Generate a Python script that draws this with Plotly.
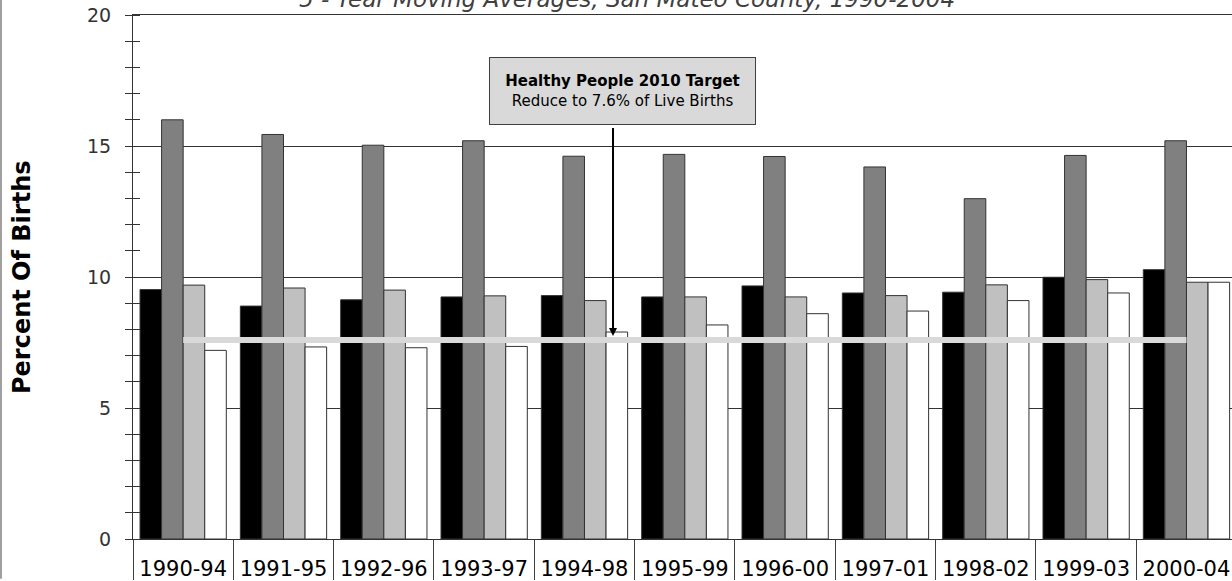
import plotly.graph_objects as go

categories = ["1990-94", "1991-95", "1992-96", "1993-97", "1994-98", "1995-99",
              "1996-00", "1997-01", "1998-02", "1999-03", "2000-04"]
series_1 = [9.52, 8.89, 9.13, 9.24, 9.29, 9.24, 9.66, 9.39, 9.42, 9.99, 10.28]
series_2 = [16.0, 15.44, 15.03, 15.2, 14.61, 14.68, 14.6, 14.2, 12.99, 14.64, 15.2]
series_3 = [9.69, 9.58, 9.5, 9.28, 9.1, 9.24, 9.24, 9.29, 9.7, 9.9, 9.8]
series_4 = [7.2, 7.33, 7.3, 7.35, 7.9, 8.17, 8.6, 8.7, 9.1, 9.39, 9.8]
target_value = 7.6
y_ticks = [0, 5, 10, 15, 20]

FONT = "DejaVu Sans"
W, H = 1232, 581
ML, MR, MT, MB = 133, 0, 15, 40
PW, PH = W - ML - MR, H - MT - MB

fig = go.Figure()
colors = ["#000000", "#808080", "#c0c0c0", "#ffffff"]
for name, vals, c in zip(["Series 1", "Series 2", "Series 3", "Series 4"],
                         [series_1, series_2, series_3, series_4], colors):
    fig.add_trace(go.Bar(x=categories, y=vals, name=name, marker_color=c,
                         marker_line=dict(color="#333333", width=1),
                         showlegend=False, hoverinfo="x+y"))

fig.add_trace(go.Scatter(x=categories, y=[target_value] * len(categories),
                         mode="lines", line=dict(color="#d9d9d9", width=6),
                         showlegend=False, hoverinfo="skip"))

fig.update_layout(
    width=W, height=H,
    margin=dict(l=ML, r=MR, t=MT, b=MB, pad=0),
    paper_bgcolor="white", plot_bgcolor="white",
    barmode="group", bargap=0.14, bargroupgap=0,
    font=dict(family=FONT, color="#000000"),
    xaxis=dict(
        type="category", range=[-0.5, -0.5 + PW / 100.33],
        showline=True, linecolor="#333333", linewidth=1, mirror=True,
        ticks="outside", tickson="boundaries", ticklen=40, tickcolor="#404040",
        tickwidth=1, showgrid=False, tickfont=dict(size=21, color="#000000"),
        ticklabelstandoff=11,
    ),
    yaxis=dict(
        range=[0, 20], tickvals=y_ticks, ticks="",
        showline=True, linecolor="#333333", linewidth=1,
        showgrid=True, gridcolor="#333333", gridwidth=1,
        zeroline=False,
        tickfont=dict(size=19, color="#333333"),
        ticklabelstandoff=17,
        minor=dict(dtick=1, ticks="outside", ticklen=7, tickcolor="#333333",
                   tickwidth=1, showgrid=False),
    ),
    yaxis2=dict(
        range=[0, 20], overlaying="y", anchor="x", side="left",
        showticklabels=False, showgrid=False, zeroline=False, showline=False,
        tickvals=y_ticks, ticks="",
        minor=dict(dtick=1, ticks="inside", ticklen=7, tickcolor="#333333",
                   tickwidth=1, showgrid=False),
    ),
)

# invisible trace so yaxis2 is drawn
fig.add_trace(go.Scatter(x=[categories[0]], y=[0], yaxis="y2", mode="markers",
                         marker=dict(opacity=0), showlegend=False, hoverinfo="skip"))

# Title (partially cut off at top, as in the reference)
fig.add_annotation(text="5 - Year Moving Averages, San Mateo County, 1990-2004",
                   xref="paper", yref="paper", x=(627 - ML) / PW, y=1 + 1 / PH,
                   xanchor="center", yanchor="bottom", showarrow=False,
                   font=dict(family=FONT, size=23, color="#404040", style="italic"))

# Y axis title
fig.add_annotation(text="<b>Percent Of Births</b>", textangle=-90,
                   xref="paper", yref="paper", x=(22 - ML) / PW, y=0.5,
                   xanchor="center", yanchor="middle", showarrow=False,
                   font=dict(family=FONT, size=24, color="#000000"))

# Target box
fig.add_annotation(text="<b>Healthy People 2010 Target</b><br>Reduce to 7.6% of Live Births",
                   xref="paper", yref="paper", x=(622 - ML) / PW, y=(H - MB - 91) / PH,
                   xanchor="center", yanchor="middle", showarrow=False,
                   width=263, height=64, align="center",
                   bgcolor="#d9d9d9", bordercolor="#404040", borderwidth=1,
                   font=dict(family=FONT, size=15, color="#000000"))

# Arrow
fig.add_annotation(text=" ", x=(613 - ML) / 100.33 - 0.5, y=target_value,
                   xref="x", yref="y", ax=0, ay=-214, showarrow=True,
                   arrowhead=2, arrowsize=0.8, arrowwidth=2, arrowcolor="#000000",
                   standoff=4, font=dict(size=1))

# Left grey frame edge
fig.add_shape(type="line", xref="paper", yref="paper",
              x0=(1 - ML) / PW, x1=(1 - ML) / PW, y0=-MB / PH, y1=1 + MT / PH,
              line=dict(color="#a0a0a0", width=2))

fig.write_html("out.html", config={"displayModeBar": False},
               post_script="document.body.style.margin='0';document.body.style.overflow='hidden';")
